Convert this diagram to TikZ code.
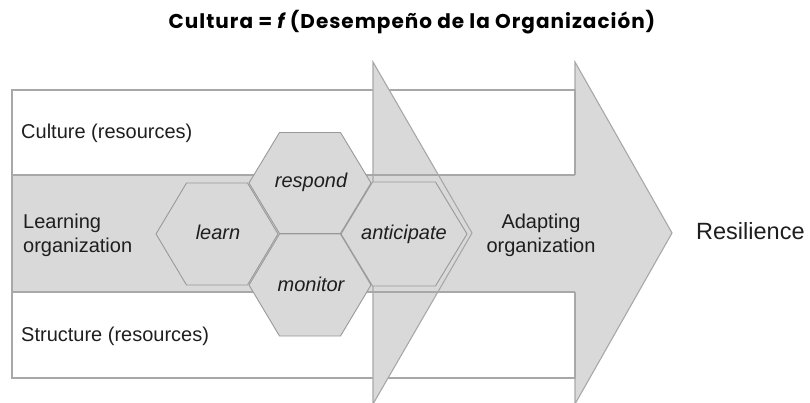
\documentclass[tikz,border=0pt]{standalone}
\usepackage{fontspec}
\setmainfont{Liberation Sans}
\newfontfamily\titlefont[LetterSpace=5]{Poppins}
\definecolor{bandgray}{HTML}{D9D9D9}
\definecolor{linegray}{HTML}{A8A8A8}
\definecolor{hexline}{HTML}{999999}
\definecolor{txt}{HTML}{1E1E1E}
\newcommand\hexshape[4]{\draw[hexs] (#1-#3,#2) -- ++(#3/2,-#4) -- ++(#3,0) -- ++(#3/2,#4) -- ++(-#3/2,#4) -- ++(-#3,0) -- cycle;}
\begin{document}
\begin{tikzpicture}[x=1pt,y=-1pt,
  lbl/.style={anchor=base west, inner sep=0pt, font=\fontsize{20}{24}\selectfont, text=txt},
  hexlbl/.style={anchor=base, inner sep=0pt, font=\fontsize{20}{24}\selectfont\itshape, text=txt},
  hexs/.style={fill=bandgray, draw=hexline, line width=0.9pt, line join=round},
  edge/.style={draw=linegray, line width=1.1pt, line join=miter}]
\useasboundingbox (0,0) rectangle (810,403);
\clip (0,0) rectangle (810,403);
\coordinate (A1top) at (373,62);
\coordinate (A1tip) at (472,233);
\coordinate (A1bot) at (373,404);
\coordinate (A2top) at (575,62);
\coordinate (A2tip) at (672,233);
\coordinate (A2bot) at (575,404);
% big frame and band fills
\fill[bandgray] (12,175) rectangle (575,292);
\fill[bandgray] (A2top) -- (A2tip) -- (A2bot) -- cycle;
\draw[edge] (575,175) -- (575,90) -- (12,90) -- (12,378) -- (575,378) -- (575,292);
\draw[edge] (575,90) -- (A2top) -- (A2tip) -- (A2bot) -- (575,378);
% first arrow head
\fill[bandgray] (A1top) -- (A1tip) -- (A1bot) -- cycle;
\draw[edge] (A1top) -- (A1tip) -- (A1bot) -- cycle;
% band lines
\draw[edge] (12,175) -- (575,175);
\draw[edge] (12,292) -- (575,292);
% hexagons
\hexshape{217}{234}{61}{51}
\hexshape{310}{183}{61}{50.5}
\hexshape{310}{285}{61}{51}
\hexshape{404}{234}{63}{52}
% texts
\node[anchor=base, inner sep=0pt, font=\titlefont\bfseries\fontsize{20}{24}\selectfont] (title) at (412,28.5) {Cultura = {\itshape f} (Desempeño de la Organización)};
\node[lbl] (culture) at (21,139) {Culture (resources)};
\node[lbl, align=left] (learning) at (23,252) {Learning\\organization};
\node[lbl] (structure) at (21,341) {Structure (resources)};
\node[hexlbl] (learn) at (218,239) {learn};
\node[hexlbl] (respond) at (311,188) {respond};
\node[hexlbl] (monitor) at (311,291) {monitor};
\node[hexlbl] (anticipate) at (404,239) {anticipate};
\node[lbl, anchor=base, align=center] (adapting) at (541,252) {Adapting\\organization};
\node[lbl, font=\fontsize{23.5}{27}\selectfont] (resilience) at (696,240) {Resilience};
\end{tikzpicture}
\end{document}
